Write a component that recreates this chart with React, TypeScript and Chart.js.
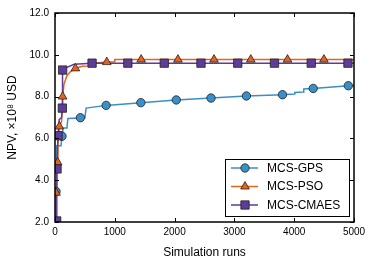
import React, { useEffect, useRef } from "react";
import { Chart, registerables } from "chart.js";

Chart.register(...registerables);

// ---- data ----
const xTicks = [0, 1000, 2000, 3000, 4000, 5000];
const yTicks = [2, 4, 6, 8, 10, 12];

const gpsLineX = [0, 17, 25, 30, 100, 110, 120, 130, 200, 215, 500, 520, 855, 1436, 2028, 2609, 3201, 3804, 4000, 4010, 4150, 4160, 4318, 4905, 5000];
const gpsLineY = [2.0, 3.46, 5.0, 5.65, 5.65, 5.9, 6.1, 6.5, 6.5, 6.95, 6.99, 7.45, 7.58, 7.71, 7.84, 7.93, 8.03, 8.09, 8.12, 8.2, 8.22, 8.36, 8.39, 8.52, 8.53];
const gpsMarkX = [17, 117, 425, 855, 1436, 2028, 2609, 3201, 3804, 4318, 4905];
const gpsMarkY = [3.46, 6.1, 6.99, 7.58, 7.71, 7.84, 7.93, 8.03, 8.09, 8.39, 8.52];

const psoLineX = [0, 17, 40, 50, 73, 110, 128, 150, 200, 260, 341, 450, 620, 650, 866, 990, 1000, 5000];
const psoLineY = [2.0, 3.4, 4.85, 5.8, 6.57, 6.8, 8.0, 8.6, 9.0, 9.2, 9.35, 9.45, 9.47, 9.6, 9.65, 9.67, 9.77, 9.77];
const psoMarkX = [17, 45, 73, 128, 341, 866, 1441, 2056, 2659, 3274, 3888, 4497];
const psoMarkY = [3.4, 4.85, 6.57, 8.0, 9.35, 9.65, 9.77, 9.77, 9.77, 9.77, 9.77, 9.77];

const cmaLineX = [0, 28, 30, 50, 70, 110, 123, 126, 200, 320, 620, 5000];
const cmaLineY = [2.0, 2.05, 4.54, 6.13, 6.9, 7.0, 7.45, 9.27, 9.4, 9.55, 9.6, 9.6];
const cmaMarkX = [28, 34, 50, 123, 128, 620, 1218, 1827, 2441, 3056, 3670, 4285, 4899];
const cmaMarkY = [2.05, 4.54, 6.13, 7.45, 9.27, 9.6, 9.6, 9.6, 9.6, 9.6, 9.6, 9.6, 9.6];

const seriesNames = ["MCS-GPS", "MCS-PSO", "MCS-CMAES"];
const seriesColors = ["#3a8fc7", "#e8631a", "#5e3c99"];
const seriesMarkers = ["circle", "triangle", "rect"];
const markerRadius = [4.2, 5, 5.9];

const FONT = "'Liberation Sans', Arial, Helvetica, sans-serif";

const zip = (xs: number[], ys: number[]) => xs.map((x, i) => ({ x, y: ys[i] }));

function drawMarker(ctx: CanvasRenderingContext2D, style: string, r: number, x: number, y: number) {
  ctx.beginPath();
  if (style === "circle") {
    ctx.arc(x, y, r, 0, Math.PI * 2);
  } else if (style === "triangle") {
    for (let k = 0; k < 3; k++) {
      const ang = (k * 2 * Math.PI) / 3;
      const px = x + Math.sin(ang) * r;
      const py = y - Math.cos(ang) * r;
      if (k === 0) ctx.moveTo(px, py);
      else ctx.lineTo(px, py);
    }
    ctx.closePath();
  } else {
    const s = Math.SQRT1_2 * r;
    ctx.rect(x - s, y - s, 2 * s, 2 * s);
  }
  ctx.fill();
  ctx.stroke();
}

const framePlugin = {
  id: "frameTicks",
  afterDatasetsDraw(chart: any) {
    const { ctx, chartArea: a, scales } = chart;
    ctx.save();
    ctx.strokeStyle = "#000";
    ctx.lineWidth = 1;
    ctx.beginPath();
    const tl = 4;
    xTicks.forEach((v) => {
      const px = Math.round(scales.x.getPixelForValue(v)) + 0.5;
      ctx.moveTo(px, a.bottom);
      ctx.lineTo(px, a.bottom - tl);
      ctx.moveTo(px, a.top);
      ctx.lineTo(px, a.top + tl);
    });
    yTicks.forEach((v) => {
      const py = Math.round(scales.y.getPixelForValue(v)) + 0.5;
      ctx.moveTo(a.left, py);
      ctx.lineTo(a.left + tl, py);
      ctx.moveTo(a.right, py);
      ctx.lineTo(a.right - tl, py);
    });
    ctx.stroke();
    ctx.lineWidth = 1.5;
    ctx.strokeRect(a.left, a.top, a.right - a.left, a.bottom - a.top);
    ctx.restore();
  },
  afterDraw(chart: any) {
    const { ctx } = chart;
    const bx = 225.5, by = 159.5, bw = 124, bh = 57;
    ctx.save();
    ctx.fillStyle = "#fff";
    ctx.fillRect(bx, by, bw, bh);
    ctx.strokeStyle = "#000";
    ctx.lineWidth = 1;
    ctx.strokeRect(bx, by, bw, bh);
    const rows = [168, 186.5, 205];
    seriesNames.forEach((name, i) => {
      const y = rows[i];
      ctx.strokeStyle = seriesColors[i];
      ctx.lineWidth = 1.5;
      ctx.beginPath();
      ctx.moveTo(231, y);
      ctx.lineTo(258, y);
      ctx.stroke();
      ctx.fillStyle = seriesColors[i];
      ctx.strokeStyle = "#222";
      ctx.lineWidth = 0.8;
      drawMarker(ctx, seriesMarkers[i], markerRadius[i], 245, y);
      ctx.fillStyle = "#000";
      ctx.font = `12px ${FONT}`;
      ctx.textAlign = "left";
      ctx.textBaseline = "middle";
      ctx.fillText(name, 267, y + 0.5);
    });
    ctx.restore();
  },
};

export default function App() {
  const ref = useRef<HTMLCanvasElement>(null);
  useEffect(() => {
    if (!ref.current) return;
    const lines = [
      zip(gpsLineX, gpsLineY),
      zip(psoLineX, psoLineY),
      zip(cmaLineX, cmaLineY),
    ];
    const marks = [
      zip(gpsMarkX, gpsMarkY),
      zip(psoMarkX, psoMarkY),
      zip(cmaMarkX, cmaMarkY),
    ];
    const datasets: any[] = [];
    lines.forEach((d, i) => {
      datasets.push({
        label: seriesNames[i] + " line",
        data: d,
        borderColor: seriesColors[i],
        borderWidth: 1.5,
        pointRadius: 0,
        fill: false,
        tension: 0,
        order: 10 - i,
      });
    });
    marks.forEach((d, i) => {
      datasets.push({
        label: seriesNames[i],
        data: d,
        showLine: false,
        pointStyle: seriesMarkers[i],
        pointRadius: markerRadius[i],
        pointBackgroundColor: seriesColors[i],
        pointBorderColor: "#222",
        pointBorderWidth: 0.8,
        order: 5 - i,
      });
    });
    const chart = new Chart(ref.current, {
      type: "line",
      data: { datasets },
      options: {
        animation: false,
        responsive: false,
        events: [],
        layout: { padding: { top: 13, right: 20, left: 0, bottom: 0 } },
        plugins: { legend: { display: false }, tooltip: { enabled: false } },
        scales: {
          x: {
            type: "linear",
            min: 0,
            max: 5000,
            afterBuildTicks: (s: any) => {
              s.ticks = xTicks.map((v) => ({ value: v }));
            },
            afterFit: (s: any) => {
              s.height = 40;
            },
            grid: { display: false, drawTicks: false },
            border: { display: false },
            ticks: {
              color: "#000",
              font: { family: FONT, size: 10 },
              padding: 4,
              maxRotation: 0,
              callback: (v: any) => String(v),
            },
            title: {
              display: true,
              text: "Simulation runs",
              color: "#000",
              font: { family: FONT, size: 12 },
              padding: { top: 0, bottom: 2 },
            },
          },
          y: {
            type: "linear",
            min: 2,
            max: 12,
            afterBuildTicks: (s: any) => {
              s.ticks = yTicks.map((v) => ({ value: v }));
            },
            afterFit: (s: any) => {
              s.width = 55;
            },
            grid: { display: false, drawTicks: false },
            border: { display: false },
            ticks: {
              color: "#000",
              font: { family: FONT, size: 10 },
              padding: 6,
              callback: (v: any) => Number(v).toFixed(1),
            },
            title: {
              display: true,
              text: "NPV, ×10⁸ USD",
              color: "#000",
              font: { family: FONT, size: 12 },
              padding: { top: 5, bottom: 0 },
            },
          },
        },
      },
      plugins: [framePlugin],
    });
    return () => chart.destroy();
  }, []);
  return (
    <div style={{ position: "fixed", left: 0, top: 0, width: 374, height: 262, background: "#fff" }}>
      <canvas ref={ref} width={374} height={262} style={{ width: 374, height: 262, display: "block" }} />
    </div>
  );
}
